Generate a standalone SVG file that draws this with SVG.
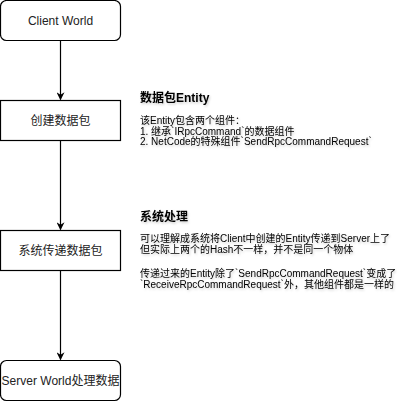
<svg xmlns="http://www.w3.org/2000/svg" width="412" height="412" viewBox="0 0 412 412">
<style>
.box{fill:#fff;stroke:#000;stroke-width:1.2}
.nt{font-family:"Liberation Sans","Noto Sans CJK SC",sans-serif;font-size:12px;fill:#222;text-anchor:middle}
.t{font-family:"Liberation Sans","Noto Sans CJK SC",sans-serif;fill:#000}
.h{font-size:12px;font-weight:bold}
.b{font-size:10px}
.edge{stroke:#000;stroke-width:1.2;fill:none}
</style>
<defs>
<marker id="ah" viewBox="0 0 10 10" refX="9" refY="5" markerWidth="8" markerHeight="8" markerUnits="userSpaceOnUse" orient="auto">
<path d="M0,0 L10,5 L0,10 L3,5 Z" fill="#000"/>
</marker>
<filter id="sh" x="-5%" y="-20%" width="110%" height="150%">
<feDropShadow dx="1" dy="1.5" stdDeviation="0.8" flood-color="#000" flood-opacity="0.2"/>
</filter>
</defs>
<g id="connectors">
<path class="edge" d="M60.5,40.5 V99.5" marker-end="url(#ah)"/>
<path class="edge" d="M60.5,140.5 V229.5" marker-end="url(#ah)"/>
<path class="edge" d="M60.5,270.5 V359.5" marker-end="url(#ah)"/>
</g>
<g id="n1">
<rect class="box" x="0.5" y="0.5" width="120" height="40" rx="6"/>
<text class="nt" x="60.5" y="24.5">Client World</text>
</g>
<g id="n2">
<rect class="box" x="0.5" y="100.5" width="120" height="40"/>
<text class="nt" x="60.5" y="124.5">创建数据包</text>
</g>
<g id="n3">
<rect class="box" x="0.5" y="230.5" width="120" height="40"/>
<text class="nt" x="60.5" y="254.5">系统传递数据包</text>
</g>
<g id="n4">
<rect class="box" x="0.5" y="360.5" width="120" height="40" rx="6"/>
<text class="nt" x="60.5" y="384.5">Server World处理数据</text>
</g>
<g id="note1" filter="url(#sh)">
<text class="t h" x="140" y="102">数据包Entity</text>
<text class="t b" x="140" y="124">该Entity包含两个组件：</text>
<text class="t b" x="140" y="134.5">1. 继承`IRpcCommand`的数据组件</text>
<text class="t b" x="140" y="145">2. NetCode的特殊组件`SendRpcCommandRequest`</text>
</g>
<g id="note2" filter="url(#sh)">
<text class="t h" x="140" y="221">系统处理</text>
<text class="t b" x="140" y="242">可以理解成系统将Client中创建的Entity传递到Server上了</text>
<text class="t b" x="140" y="253">但实际上两个的Hash不一样，并不是同一个物体</text>
<text class="t b" x="140" y="277">传递过来的Entity除了`SendRpcCommandRequest`变成了</text>
<text class="t b" x="140" y="288">`ReceiveRpcCommandRequest`外，其他组件都是一样的</text>
</g>
</svg>
